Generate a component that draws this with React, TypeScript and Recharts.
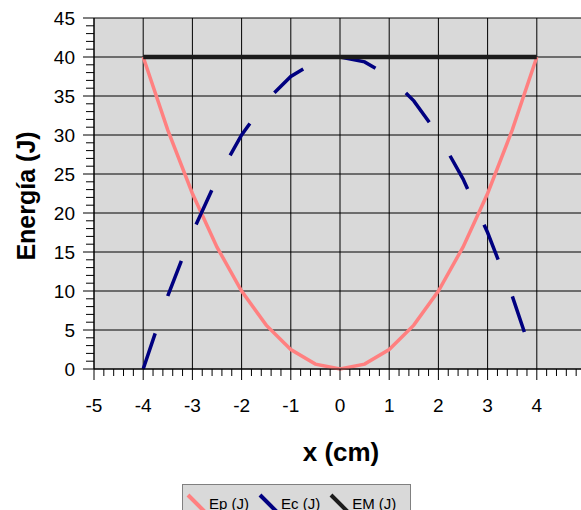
import { LineChart, Line, XAxis, YAxis, CartesianGrid, Legend } from 'recharts';

const xValues = [-4, -3.5, -3, -2.5, -2, -1.5, -1, -0.5, 0, 0.5, 1, 1.5, 2, 2.5, 3, 3.5, 4];
const epValues = [40, 30.625, 22.5, 15.625, 10, 5.625, 2.5, 0.625, 0, 0.625, 2.5, 5.625, 10, 15.625, 22.5, 30.625, 40];
const ecValues = [0, 9.375, 17.5, 24.375, 30, 34.375, 37.5, 39.375, 40, 39.375, 37.5, 34.375, 30, 24.375, 17.5, 9.375, 0];
const emValues = [40, 40, 40, 40, 40, 40, 40, 40, 40, 40, 40, 40, 40, 40, 40, 40, 40];

const xMajor = [-5, -4, -3, -2, -1, 0, 1, 2, 3, 4, 5];
const yMajor = [0, 5, 10, 15, 20, 25, 30, 35, 40, 45];

const seriesNames = ['Ep (J)', 'Ec (J)', 'EM (J)'];
const seriesColors = ['#ff8080', '#000080', '#1c1c1c'];

const data = xValues.map((x, i) => ({
  x,
  ep: epValues[i],
  ec: ecValues[i],
  em: emValues[i],
}));

// minor tick positions (5 per unit on x, 1 per unit on y)
const xTicks: number[] = [];
for (let i = 0; i <= 50; i++) xTicks.push(Math.round((-5 + i * 0.2) * 10) / 10);
const yTicks: number[] = [];
for (let i = 0; i <= 45; i++) yTicks.push(i);

const font = '"Liberation Sans", Arial, sans-serif';

const XTick = (props: any) => {
  const { x, y, payload } = props;
  const v = payload.value;
  const major = Math.abs(v - Math.round(v)) < 1e-6;
  return (
    <g>
      <line x1={x} x2={x} y1={y} y2={y + (major ? 11 : 7)} stroke="#000" strokeWidth={1} />
      {major && (
        <text x={x} y={y + 43} textAnchor="middle" fontSize={19} fontFamily={font} fill="#000">
          {String(Math.round(v))}
        </text>
      )}
    </g>
  );
};

const YTick = (props: any) => {
  const { x, y, payload } = props;
  const v = payload.value;
  const major = v % 5 === 0;
  return (
    <g>
      <line x1={x - (major ? 11 : 8)} x2={x} y1={y} y2={y} stroke="#000" strokeWidth={1} />
      {major && (
        <text x={x - 19} y={y} dy="0.36em" textAnchor="end" fontSize={19} fontFamily={font} fill="#000">
          {String(v)}
        </text>
      )}
    </g>
  );
};

const LegendBox = () => (
  <div
    style={{
      boxSizing: 'border-box',
      width: 229,
      height: 38,
      background: '#d9d9d9',
      border: '1px solid #808080',
      display: 'flex',
      alignItems: 'center',
      fontFamily: font,
      fontSize: 15,
      color: '#000',
      paddingLeft: 3,
    }}
  >
    {seriesNames.map((name, i) => (
      <div key={name} style={{ display: 'flex', alignItems: 'center', marginRight: i < 2 ? 9 : 0 }}>
        <svg width={21} height={22} style={{ marginRight: 2 }}>
          <line x1={2} y1={3} x2={19} y2={20} stroke={seriesColors[i]} strokeWidth={4} />
        </svg>
        <span>{name}</span>
      </div>
    ))}
  </div>
);

export default function App() {
  return (
    <div style={{ position: 'absolute', left: 0, top: 0, width: 581, height: 510, overflow: 'hidden', background: '#fff' }}>
      <LineChart width={600} height={510} data={data} margin={{ top: 18, right: 14, left: 0, bottom: 13 }}>
        <CartesianGrid
          fill="#d9d9d9"
          stroke="#000"
          strokeOpacity={1}
          horizontalValues={yMajor}
          verticalValues={xMajor}
        />
        <XAxis
          dataKey="x"
          type="number"
          domain={[-5, 5]}
          ticks={xTicks}
          interval={0}
          tickSize={0}
          tickMargin={0}
          tickLine={false}
          tick={<XTick />}
          height={90}
          axisLine={{ stroke: '#000' }}
          label={(p: any) => {
            const vb = p.viewBox;
            return (
              <text x={341} y={vb.y + 92} textAnchor="middle" fontSize={26} fontWeight="bold" fontFamily={font} fill="#000">
                x (cm)
              </text>
            );
          }}
        />
        <YAxis
          type="number"
          domain={[0, 45]}
          ticks={yTicks}
          interval={0}
          tickSize={0}
          tickMargin={0}
          tickLine={false}
          tick={<YTick />}
          width={94}
          axisLine={{ stroke: '#000' }}
          label={() => (
            <text
              x={26}
              y={196}
              transform="rotate(-90, 26, 196)"
              textAnchor="middle"
              dy="0.36em"
              fontSize={25}
              fontWeight="bold"
              fontFamily={font}
              fill="#000"
            >
              Energía (J)
            </text>
          )}
        />
        <Legend
          verticalAlign="bottom"
          content={<LegendBox />}
          wrapperStyle={{ left: 182, top: 484, bottom: 'auto', width: 229, height: 38 }}
        />
        <Line type="linear" dataKey="ep" name={seriesNames[0]} stroke={seriesColors[0]} strokeWidth={3.5} dot={false} isAnimationActive={false} />
        <Line
          type="linear"
          dataKey="ec"
          name={seriesNames[1]}
          stroke={seriesColors[1]}
          strokeWidth={3.5}
          strokeDasharray="37.6 39.4"
          dot={false}
          isAnimationActive={false}
        />
        <Line type="linear" dataKey="em" name={seriesNames[2]} stroke={seriesColors[2]} strokeWidth={4.5} dot={false} isAnimationActive={false} />
      </LineChart>
    </div>
  );
}
